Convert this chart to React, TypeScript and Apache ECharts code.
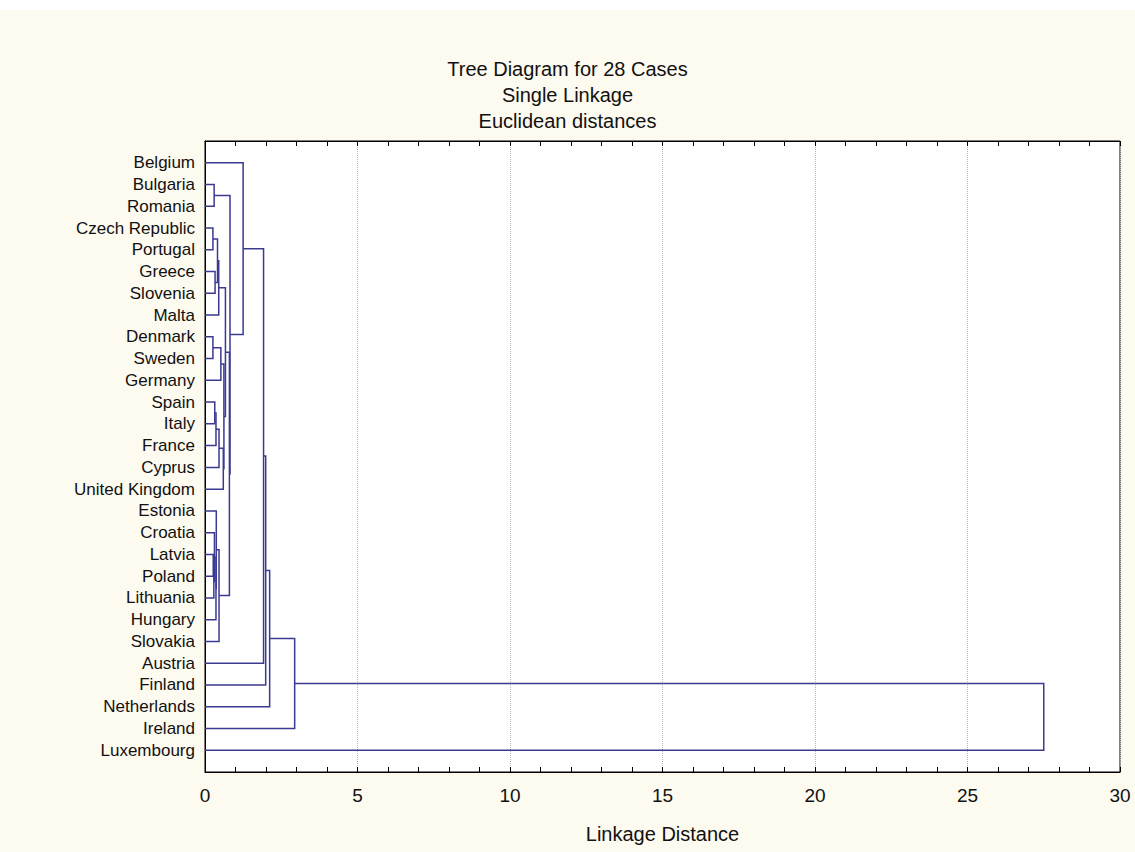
import React, { useEffect, useRef } from "react";
import * as echarts from "echarts";

// Leaves in dendrogram order (top to bottom)
const countries = [
  "Belgium", "Bulgaria", "Romania", "Czech Republic", "Portugal", "Greece", "Slovenia",
  "Malta", "Denmark", "Sweden", "Germany", "Spain", "Italy", "France", "Cyprus",
  "United Kingdom", "Estonia", "Croatia", "Latvia", "Poland", "Lithuania", "Hungary",
  "Slovakia", "Austria", "Finland", "Netherlands", "Ireland", "Luxembourg",
];

// Merge steps: child A, child B ("#k" = result of merge k), linkage distance
const mergeA = [
  "Czech Republic", "Denmark", "Latvia", "#2", "Bulgaria", "Spain", "Croatia", "Greece",
  "#5", "#6", "Estonia", "#0", "#11", "#8", "#10", "#1", "#13", "#15", "#12", "#18",
  "#4", "Belgium", "#21", "#22", "#23", "#24", "#25",
];
const mergeB = [
  "Portugal", "Sweden", "Poland", "Lithuania", "Romania", "Italy", "#3", "Slovenia",
  "France", "Hungary", "#9", "#7", "Malta", "Cyprus", "Slovakia", "Germany",
  "United Kingdom", "#16", "#17", "#14", "#19", "#20", "Austria", "Finland",
  "Netherlands", "Ireland", "Luxembourg",
];
const mergeHeight = [
  0.26, 0.26, 0.27, 0.29, 0.3, 0.32, 0.31, 0.33, 0.36, 0.36, 0.37, 0.41, 0.45, 0.46,
  0.46, 0.52, 0.6, 0.62, 0.67, 0.8, 0.82, 1.25, 1.92, 1.99, 2.12, 2.94, 27.5,
];

const titleLines = ["Tree Diagram for 28 Cases", "Single Linkage", "Euclidean distances"];
const xAxisName = "Linkage Distance";

const LINE = "#3a3a90";
const FONT = "'Liberation Sans', Arial, sans-serif";

function buildLinks() {
  const pos: Record<string, { y: number; h: number }> = {};
  countries.forEach((c, i) => (pos[c] = { y: i, h: 0 }));
  const rows: number[][] = [];
  mergeA.forEach((a, k) => {
    const A = pos[a];
    const B = pos[mergeB[k]];
    const h = mergeHeight[k];
    rows.push([A.h, A.y, h, B.h, B.y]);
    pos["#" + k] = { y: (A.y + B.y) / 2, h };
  });
  return rows;
}

export default function App() {
  const ref = useRef<HTMLDivElement>(null);
  useEffect(() => {
    if (!ref.current) return;
    const chart = echarts.init(ref.current, undefined, { renderer: "svg" });
    const links = buildLinks();
    const xCommon = {
      type: "value",
      min: 0,
      max: 30,
      interval: 5,
      axisLine: { show: true, onZero: false, lineStyle: { color: "#000", width: 1 } },
      axisTick: { show: true, inside: true, length: 5, lineStyle: { color: "#000" } },
      minorTick: { show: true, splitNumber: 5, length: 5, lineStyle: { color: "#000" } },
    };
    chart.setOption({
      animation: false,
      backgroundColor: "#fdfaf0",
      textStyle: { fontFamily: FONT },
      title: {
        text: titleLines.join("\n"),
        left: "center",
        top: 41,
        textStyle: {
          fontFamily: FONT,
          fontSize: 20,
          fontWeight: "normal",
          color: "#111",
          lineHeight: 26,
        },
      },
      grid: {
        left: 205,
        right: 15,
        top: 131,
        bottom: 80,
        show: true,
        backgroundColor: "#ffffff",
        borderColor: "#000",
        borderWidth: 1,
      },
      xAxis: [
        {
          ...xCommon,
          position: "bottom",
          name: xAxisName,
          nameLocation: "middle",
          nameGap: 52,
          nameTextStyle: { fontFamily: FONT, fontSize: 20, color: "#111" },
          axisLabel: { fontFamily: FONT, fontSize: 19, color: "#111", margin: 14 },
          splitLine: { show: true, lineStyle: { color: "#b8b8b8", type: "dotted", width: 1 } },
        },
        {
          ...xCommon,
          position: "top",
          axisLabel: { show: false },
          splitLine: { show: false },
        },
      ],
      yAxis: {
        type: "value",
        inverse: true,
        min: -1,
        max: 28,
        interval: 1,
        axisLine: { show: true, onZero: false, lineStyle: { color: "#000" } },
        axisTick: { show: false },
        splitLine: { show: false },
        axisLabel: {
          fontFamily: FONT,
          fontSize: 17,
          color: "#111",
          margin: 10,
          formatter: (v: number) => countries[Math.round(v)] ?? "",
        },
      },
      series: [
        {
          type: "custom",
          xAxisIndex: 0,
          silent: true,
          encode: { x: [0, 2, 3], y: [1, 4] },
          data: links,
          renderItem: (_params: any, api: any) => {
            const p1 = api.coord([api.value(0), api.value(1)]);
            const p2 = api.coord([api.value(2), api.value(1)]);
            const p3 = api.coord([api.value(2), api.value(4)]);
            const p4 = api.coord([api.value(3), api.value(4)]);
            return {
              type: "polyline",
              shape: { points: [p1, p2, p3, p4] },
              style: { stroke: LINE, lineWidth: 1.5, fill: "none" },
            };
          },
        },
      ],
    });
    return () => chart.dispose();
  }, []);
  return (
    <div style={{ position: "absolute", left: 0, top: 0, width: 1135, height: 852, background: "#fff" }}>
      <div ref={ref} style={{ position: "absolute", left: 0, top: 10, width: 1135, height: 842 }} />
    </div>
  );
}
